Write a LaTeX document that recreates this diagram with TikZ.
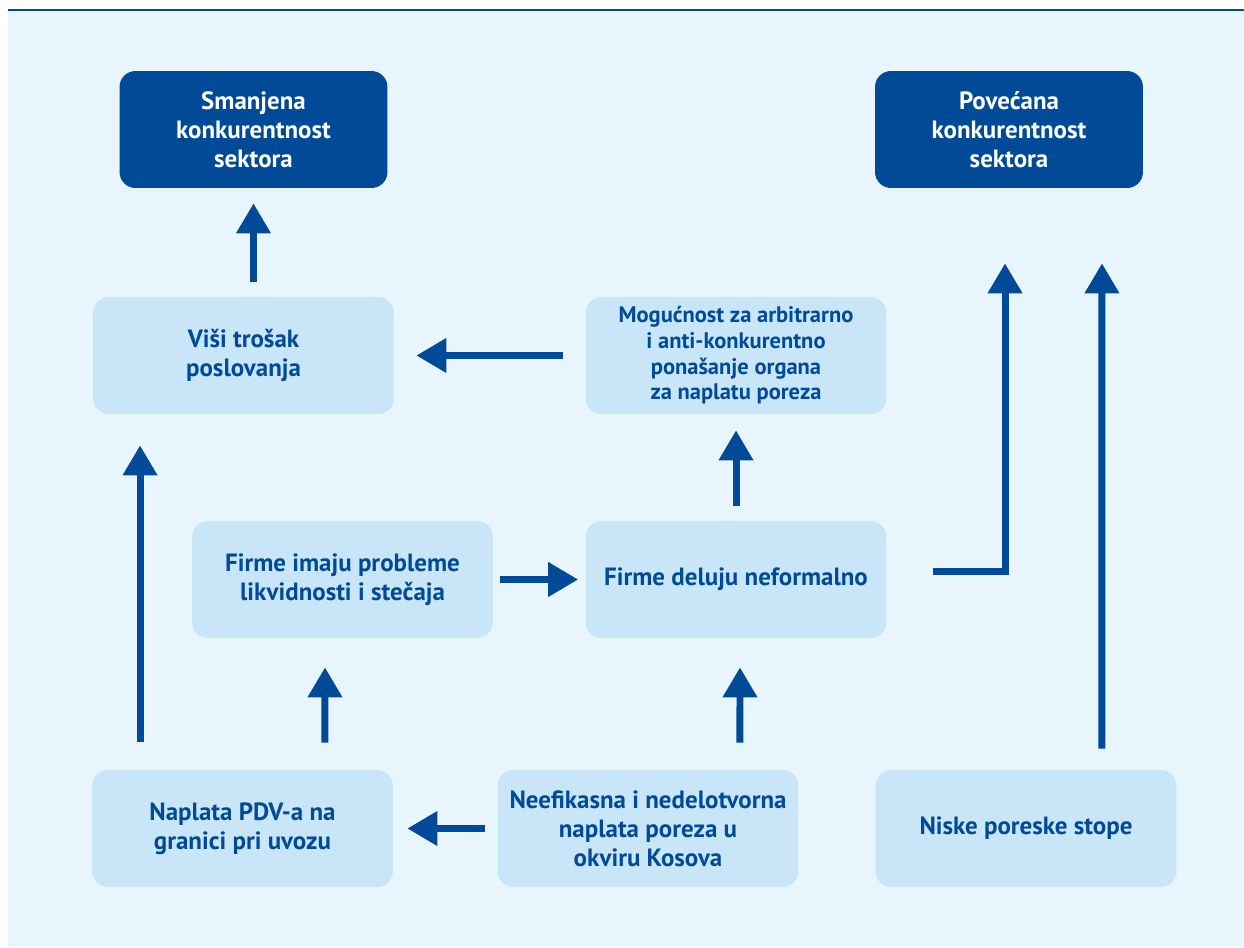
\documentclass[tikz,border=0pt]{standalone}
\usepackage{fontspec}
\setmainfont{PT Sans}
\usetikzlibrary{arrows.meta}
\definecolor{darkblue}{HTML}{004A98}
\definecolor{boxblue}{HTML}{C9E6F8}
\definecolor{bgblue}{HTML}{E8F5FD}
\begin{document}
\begin{tikzpicture}[x=0.02cm, y=-0.02cm,
		darkbox/.style={fill=darkblue, text=white, rounded corners=0.32cm, minimum width=5.36cm, minimum height=2.34cm, inner sep=0pt, align=center, font=\fontsize{14.2}{16.5}\selectfont\bfseries},
		lightbox/.style={fill=boxblue, text=darkblue, rounded corners=0.32cm, minimum width=6.02cm, minimum height=2.34cm, inner sep=0pt, align=center, font=\fontsize{14.2}{16.5}\selectfont\bfseries},
		arr/.style={draw=darkblue, line width=0.14cm, -{Triangle[width=0.66cm,length=0.6cm]}}]
	\useasboundingbox (0, 0) rectangle (1244, 947);
	% background and top rule
	\fill[bgblue] (8, 10) rectangle (1244, 947);
	\draw[darkblue, line width=0.05cm] (8, 10) -- (1244, 10);

	% top row
	\node[darkbox] (smanjena) at (253.5, 129.5) {Smanjena\\konkurentnost\\sektora};
	\node[darkbox] (povecana) at (1009, 129.5) {Povećana\\konkurentnost\\sektora};

	% second row
	\node[lightbox] (visi) at (243.5, 355.5) {Viši trošak\\poslovanja};
	\node[lightbox, font=\fontsize{12.8}{14.6}\selectfont\bfseries] (mogucnost) at (736, 355.5) {Mogućnost za arbitrarno\\i anti-konkurentno\\ponašanje organa\\za naplatu poreza};

	% third row
	\node[lightbox] (imaju) at (342.5, 579.5) {Firme imaju probleme\\likvidnosti i stečaja};
	\node[lightbox] (deluju) at (736, 579.5) {Firme deluju neformalno};

	% bottom row
	\node[lightbox] (naplata) at (242.5, 828.5) {Naplata PDV-a na\\granici pri uvozu};
	\node[lightbox] (neefikasna) at (648, 828.5) {Neefikasna i nedelotvorna\\naplata poreza u\\okviru Kosova};
	\node[lightbox] (niske) at (1026, 828.5) {Niske poreske stope};

	% arrows
	\draw[arr, shorten <=0.3cm, shorten >=0.3cm] (smanjena.south |- visi.north) -- (smanjena.south);
	\draw[arr, shorten <=0.44cm, shorten >=0.44cm] (mogucnost.west) -- (visi.east);
	\draw[arr, shorten <=0.3cm, shorten >=0.32cm] (deluju.north) -- (mogucnost.south);
	\draw[arr, shorten <=0.14cm, shorten >=0.14cm] (imaju.east) -- (deluju.west);
	\draw[arr, shorten >=1.5cm] ([shift={(0.92cm,0.17cm)}]deluju.east) -| ([xshift=-0.08cm]povecana.south);
	\draw[arr, shorten <=0.42cm, shorten >=1.5cm] ([xshift=1.52cm]niske.north) -- ([xshift=1.86cm]povecana.south);
	\draw[arr, shorten <=0.56cm, shorten >=0.62cm] ([xshift=-2.05cm]naplata.north) -- ([xshift=-2.07cm]visi.south);
	\draw[arr, shorten <=0.54cm, shorten >=0.58cm] ([xshift=1.65cm]naplata.north) -- ([xshift=-0.35cm]imaju.south);
	\draw[arr, shorten <=0.54cm, shorten >=0.58cm] ([xshift=1.84cm]neefikasna.north) -- ([xshift=0.08cm]deluju.south);
	\draw[arr, shorten <=0.24cm, shorten >=0.28cm] (neefikasna.west) -- (naplata.east);
\end{tikzpicture}
\end{document}
